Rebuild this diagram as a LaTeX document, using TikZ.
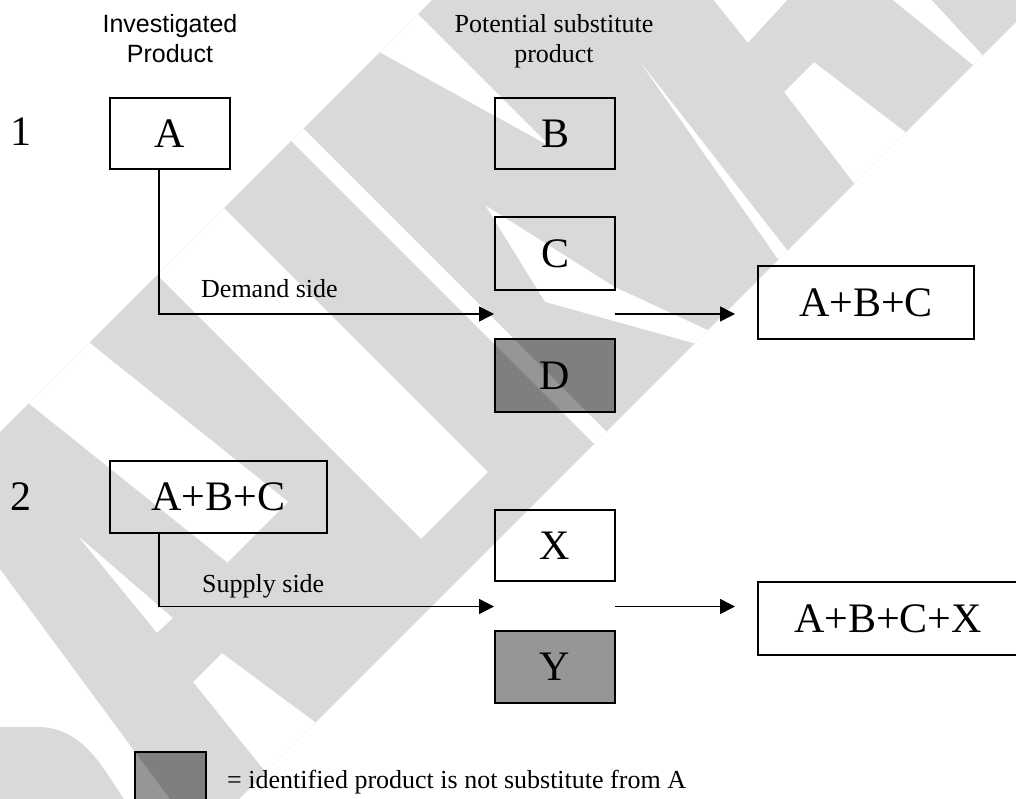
\documentclass[tikz,border=0pt]{standalone}
\usepackage{fontspec}
\setmainfont{Liberation Serif}
\newfontfamily\hdrfont{Liberation Sans}
\usetikzlibrary{arrows.meta,calc}
\definecolor{nsgrey}{RGB}{150,150,150}
\definecolor{wmgrey}{RGB}{217,217,217}
\tikzset{
  box/.style={draw=black, line width=1.8pt, fill=white, inner sep=0pt, outer sep=0pt,
              font=\fontsize{42}{46}\selectfont},
  nsbox/.style={box, fill=nsgrey},
  conn/.style={line width=1.5pt, -{Triangle[length=15pt,width=15pt]}},
  lbl/.style={font=\fontsize{26}{30}\selectfont, inner sep=0pt, anchor=base west},
  hdr/.style={align=center, inner sep=0pt, anchor=base},
  num/.style={font=\fontsize{42}{46}\selectfont, inner sep=0pt, anchor=base},
  wmark/.style={fill=wmgrey, even odd rule, draw=none},
}
\newcommand{\wmstrip}{(434,-2) -- (1040,-2) -- (-2,1040) -- (-2,434) -- cycle}
\begin{document}
\begin{tikzpicture}[x=1pt,y=-1pt]
\useasboundingbox (0,0) rectangle (1016,799);
\clip (0,0) rectangle (1016,799);
% headers
\node[hdr, font=\hdrfont\fontsize{25}{30}\selectfont] (h1) at (170,33) {Investigated};
\node[hdr, font=\hdrfont\fontsize{25}{30}\selectfont] (h1b) at (170,63) {Product};
\node[hdr, font=\fontsize{26}{30}\selectfont] (h2) at (554,33) {Potential substitute};
\node[hdr, font=\fontsize{26}{30}\selectfont] (h2b) at (554,63) {product};
% row numbers
\node[num] (n1) at (21,146) {1};
\node[num] (n2) at (21,510) {2};
% row 1
\node[box, minimum width=120pt, minimum height=71pt] (A) at (170,133.5) {A};
\node[box, minimum width=120pt, minimum height=71pt] (B) at (555,133.5) {B};
\node[box, minimum width=120pt, minimum height=73pt] (C) at (555,253.5) {C};
\node[nsbox, minimum width=120pt, minimum height=73pt] (D) at (555,375.5) {D};
\node[box, minimum width=216pt, minimum height=73pt] (R1) at (866,302.5) {A+B+C};
\coordinate (t1) at (494,314);
\coordinate (s1) at (615,314);
\coordinate (e1) at (735,314);
\draw[conn] ([xshift=-11pt]A.south) |- (t1);
\node[lbl] (dl) at (201,298) {Demand side};
\draw[conn] (s1) -- (e1);
% row 2
\node[box, minimum width=217pt, minimum height=72pt] (L2) at (218.5,497) {A+B+C};
\node[box, minimum width=120pt, minimum height=71pt] (X) at (555,545.5) {X};
\node[nsbox, minimum width=120pt, minimum height=72pt] (Y) at (555,667) {Y};
\node[box, minimum width=260pt, minimum height=73pt] (R2) at (888,618.5) {A+B+C+X};
\coordinate (t2) at (494,606.5);
\coordinate (s2) at (615,606.5);
\coordinate (e2) at (735,606.5);
\draw[conn] ([xshift=-59.5pt]L2.south) |- (t2);
\node[lbl] (sl) at (202,592) {Supply side};
\draw[conn] (s2) -- (e2);
% legend
\node[nsbox, minimum width=71pt, minimum height=60pt] (key) at (170.5,782) {};
\node[lbl] (kt) at (227,788) {= identified product is not substitute from A};
% watermark, laid over everything (multiply)
\begin{scope}[blend mode=multiply]
\clip \wmstrip;
\fill[wmark] \wmstrip
  (711,-3) -- (748,43) -- (790,-3) -- cycle
  (889,-3) -- (929,-3) -- (1000,74) -- (990,79) -- cycle
  (925,147) -- (814,62) -- (784,92) -- (866,199) -- cycle
  (635,55) -- (802,269) -- (791,278) -- cycle
  (360,41.5) -- (551,147) -- (405,1) -- cycle
  (275,125) -- (610,460) -- (622.5,447.5) -- (287.5,112.5) -- cycle
  (141,259) -- (421,539) -- (488,472) -- (208,192) -- cycle
  (10.8,389.2) -- (71.7,328.3) -- (288.3,501.7) -- (227.4,562.6) -- cycle
  (77,535) -- (157,633) -- (173,618) -- cycle
  (-3,565) -- (178,810) -- (131,810) -- (110,778) .. controls (95,755) and (75,728) .. (40,727) -- (-3,727) -- cycle
  (193,682) -- (222,653) -- (330,733) -- (280,790) -- cycle
  (485,205) -- (615,287) -- (712,332) -- (700,345) -- (545,302) -- cycle;
\end{scope}
\end{tikzpicture}
\end{document}
